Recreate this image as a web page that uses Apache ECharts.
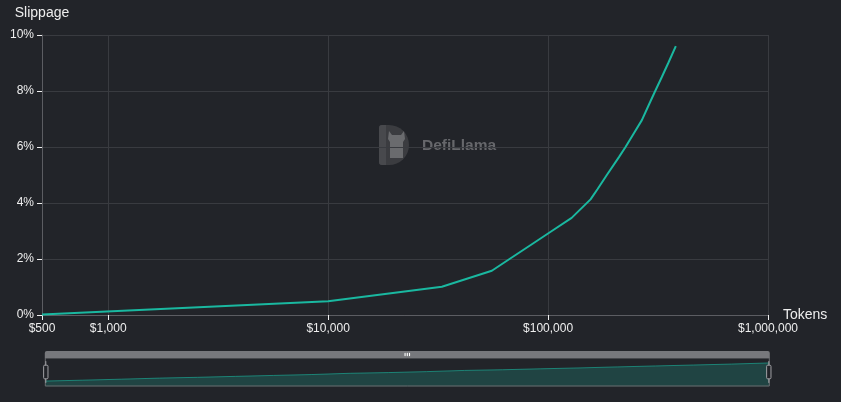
<!DOCTYPE html>
<html>
<head>
<meta charset="utf-8">
<script src="https://cdn.jsdelivr.net/npm/echarts@6/dist/echarts.min.js"></script>
<style>
html,body{margin:0;padding:0;background:#222429;}
#chart{width:841px;height:402px;}
</style>
</head>
<body>
<div id="chart"></div>
<script>
// Token amounts (USD) and slippage (%)
const tokens   = [500, 10000, 32900, 55500, 66800, 83400, 104000, 128000, 156000, 168000, 185000, 210000, 225000, 246000, 267000, 287000, 307000, 329000, 352000, 381000];
const slippage = [0.02, 0.49, 1.01, 1.58, 2.0, 2.5, 3.0, 3.47, 4.13, 4.5, 5.0, 5.64, 6.0, 6.5, 6.96, 7.5, 8.0, 8.5, 9.0, 9.6];
const yTicks = [0, 2, 4, 6, 8, 10];

const FONT = 'Liberation Sans, Arial, sans-serif';
const lineColor = '#1ab8a0';
const textColor = '#eeeeee';

const chart = echarts.init(document.getElementById('chart'), null, {renderer: 'canvas'});
const seriesData = tokens.map((t, i) => [t, slippage[i]]);

chart.setOption({
  backgroundColor: '#222429',
  animation: false,
  textStyle: {fontFamily: FONT},
  grid: {left: 42, right: 73, top: 35, bottom: 87, containLabel: false},
  xAxis: {
    type: 'log',
    logBase: 10,
    min: 500,
    max: 1000000,
    name: 'Tokens',
    nameLocation: 'end',
    nameGap: 15,
    nameTextStyle: {color: textColor, fontSize: 14, fontFamily: FONT},
    axisLine: {show: true, lineStyle: {color: '#5c5d62', width: 1}},
    axisTick: {show: true, lineStyle: {color: '#f0f0f0'}},
    axisLabel: {
      color: textColor, fontSize: 12, fontFamily: FONT, margin: 8,
      formatter: v => '$' + Math.round(v).toLocaleString('en-US')
    },
    splitLine: {show: true, lineStyle: {color: '#393b40', width: 1}},
    minorTick: {show: false}
  },
  yAxis: {
    type: 'value',
    min: yTicks[0],
    max: yTicks[yTicks.length - 1],
    interval: 2,
    name: 'Slippage',
    nameLocation: 'end',
    nameGap: 15,
    nameTextStyle: {color: textColor, fontSize: 14, fontFamily: FONT},
    axisLine: {show: true, lineStyle: {color: '#5c5d62', width: 1}},
    axisTick: {show: true, lineStyle: {color: '#f0f0f0'}},
    axisLabel: {color: textColor, fontSize: 12, fontFamily: FONT, formatter: '{value}%'},
    splitLine: {show: true, lineStyle: {color: '#393b40', width: 1}}
  },
  dataZoom: [{
    type: 'slider',
    xAxisIndex: 0,
    left: 42,
    right: 74,
    top: 351,
    height: 29,
    start: 0,
    end: 100,
    brushSelect: true,
    moveHandleSize: 7,
    borderColor: '#6b6c70',
    fillerColor: 'rgba(0,0,0,0)',
    backgroundColor: 'rgba(0,0,0,0)',
    showDetail: false,
    handleSize: '75%',
    handleStyle: {color: '#222429', borderColor: '#a0a0a4', borderWidth: 1},
    moveHandleStyle: {color: '#77787c', opacity: 1},
    dataBackground: {
      lineStyle: {color: lineColor, opacity: 0.6, width: 1},
      areaStyle: {color: lineColor, opacity: 0.22}
    },
    selectedDataBackground: {
      lineStyle: {color: lineColor, opacity: 0.6, width: 1},
      areaStyle: {color: lineColor, opacity: 0.22}
    },
    emphasis: {handleStyle: {borderColor: '#a0a0a4'}, moveHandleStyle: {color: '#77787c'}}
  }],
  graphic: [
    {
      type: 'rect',
      left: 379, top: 125,
      shape: {width: 30, height: 40, r: [3, 20, 20, 3]},
      style: {fill: '#3b3c40'},
      z: 0, silent: true
    },
    {
      type: 'rect',
      left: 379, top: 125,
      shape: {width: 7, height: 40, r: [3, 0, 0, 3]},
      style: {fill: '#48494d'},
      z: 0, silent: true
    },
    {
      type: 'polygon',
      shape: {points: [[389, 131], [392, 135], [401, 135], [404, 131], [405, 139], [403, 142], [403, 158], [390, 158], [390, 142], [388, 139]]},
      style: {fill: '#6a6b6e'},
      z: 0, silent: true
    },
    {
      type: 'text',
      left: 422, top: 138,
      style: {text: 'DefiLlama', fill: '#66676b', font: 'bold 15.5px ' + FONT},
      z: 0, silent: true
    }
  ],
  series: [{
    type: 'line',
    data: seriesData,
    showSymbol: false,
    smooth: false,
    lineStyle: {color: lineColor, width: 2},
    itemStyle: {color: lineColor},
    z: 3
  }]
});
</script>
</body>
</html>
